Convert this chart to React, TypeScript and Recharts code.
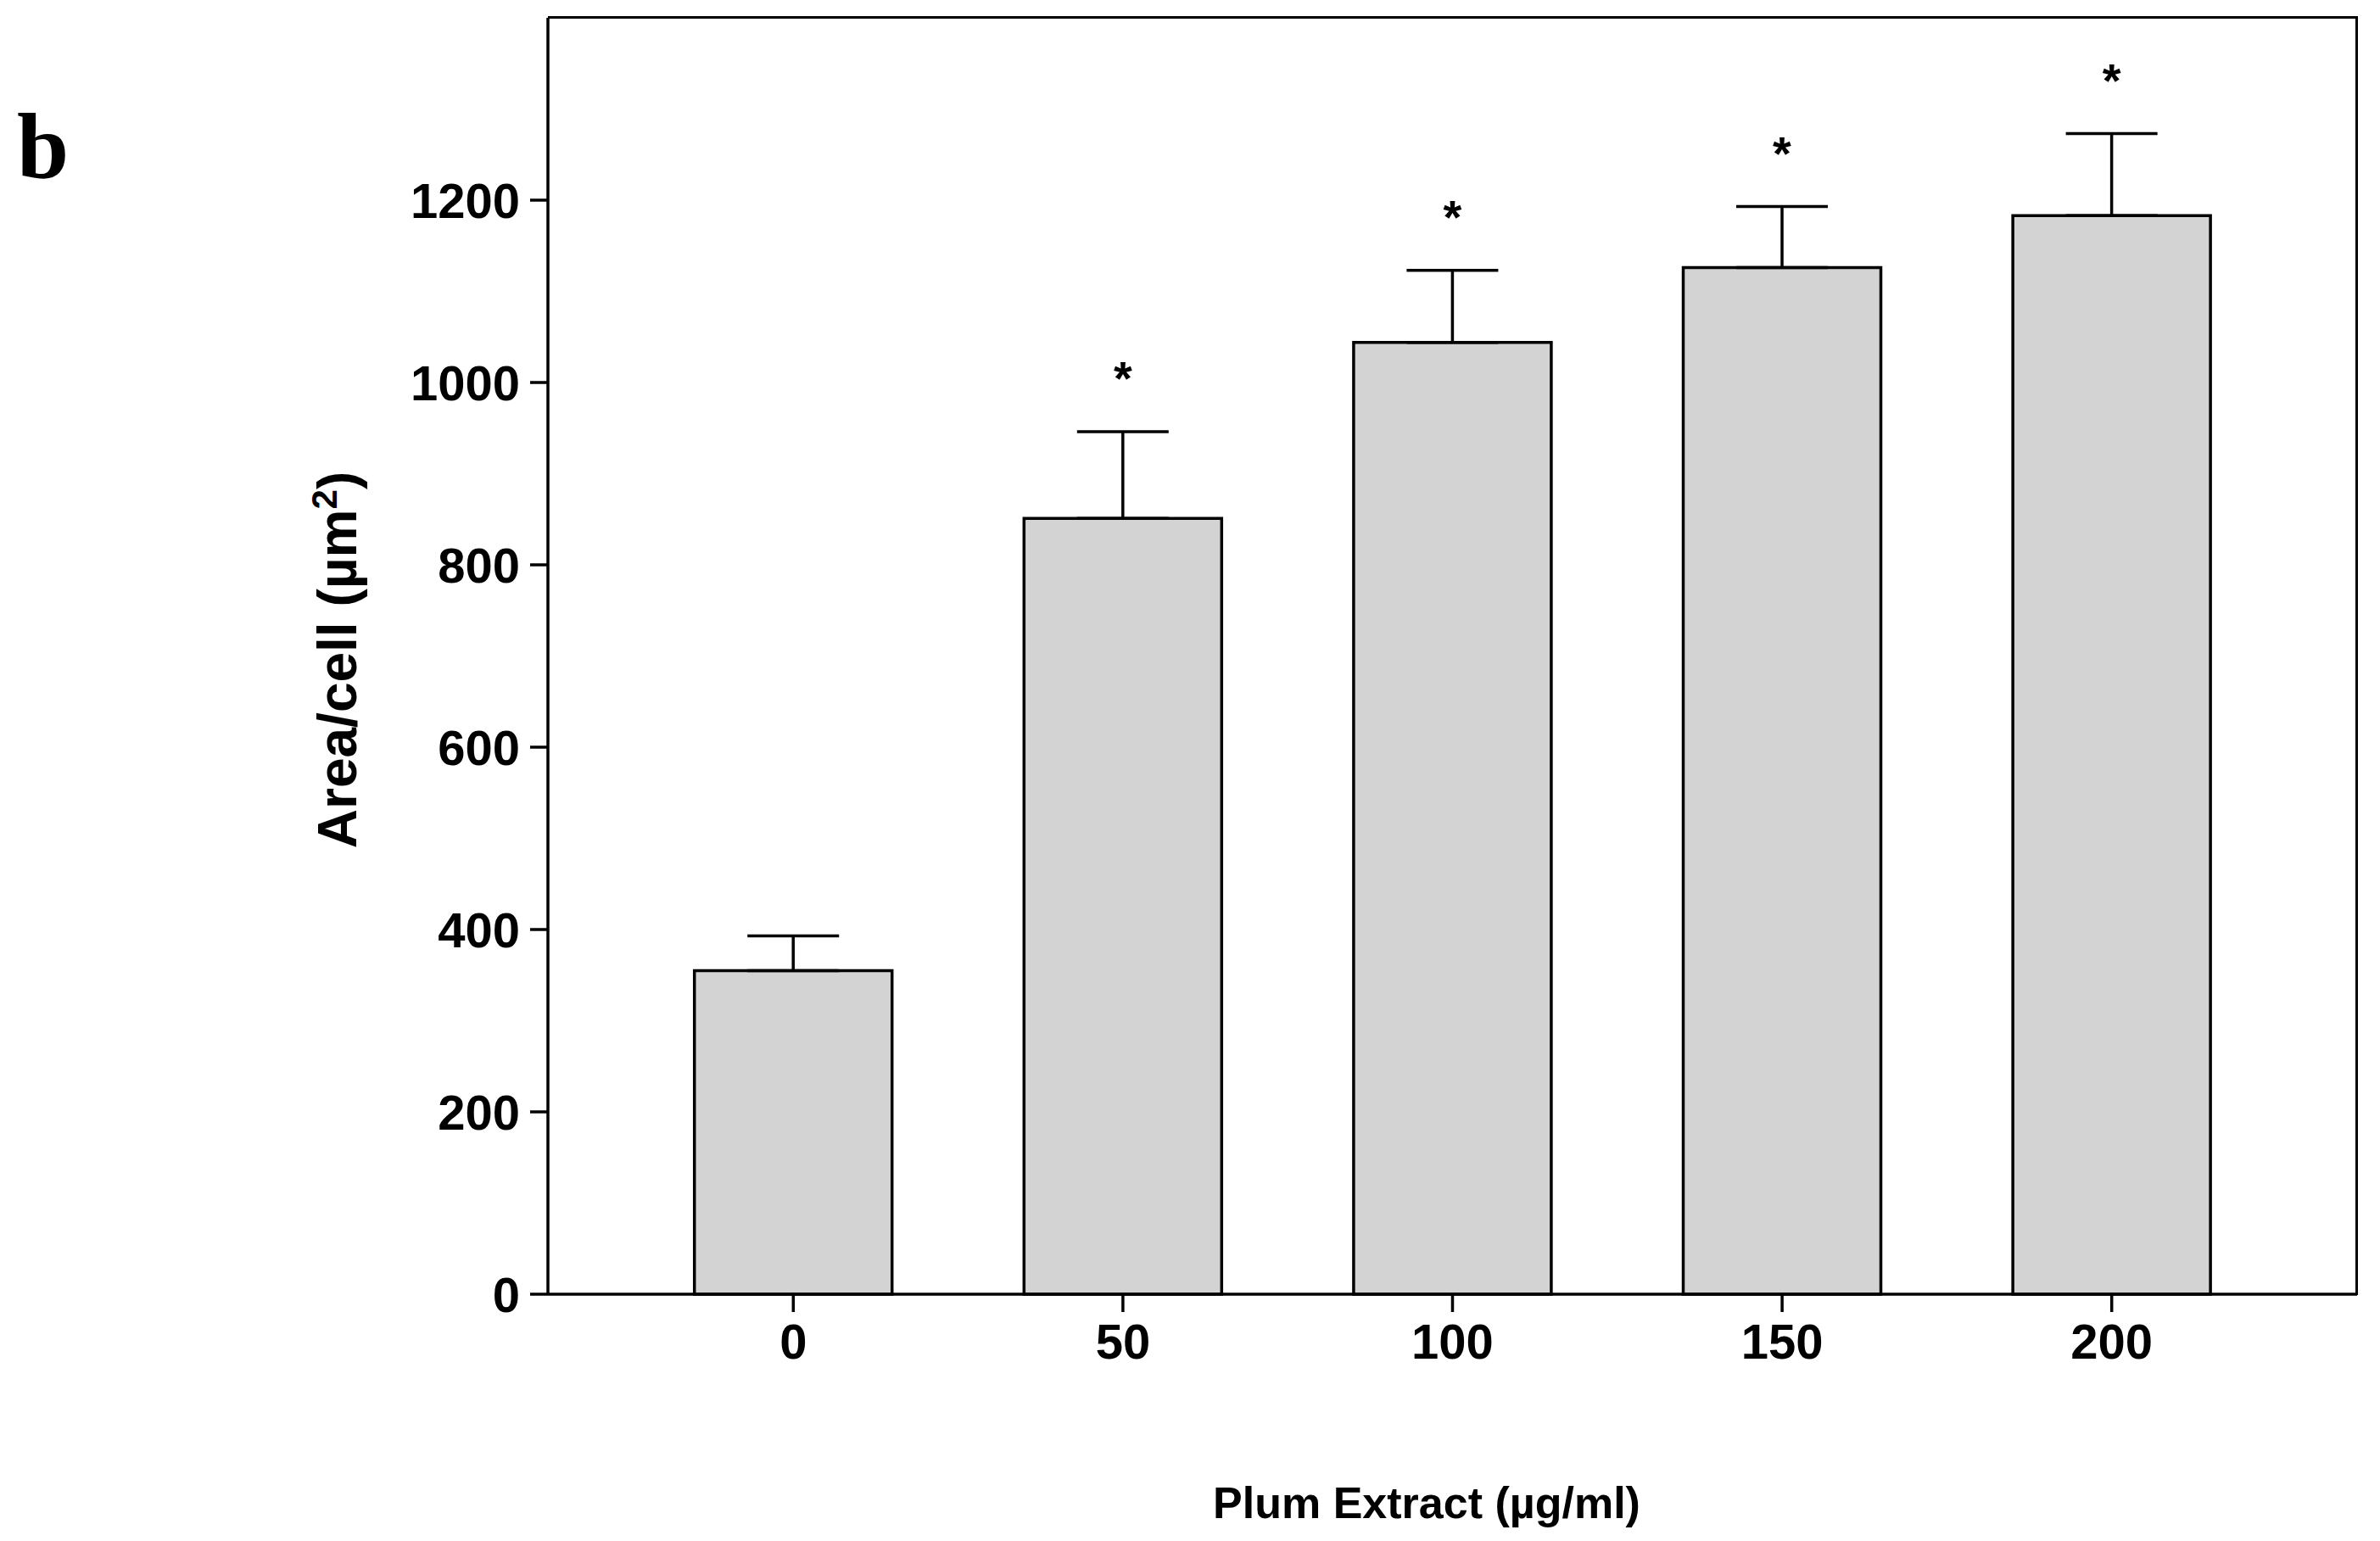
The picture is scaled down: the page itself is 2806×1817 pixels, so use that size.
import React from "react";
import { BarChart, Bar, XAxis, YAxis, ErrorBar, LabelList } from "recharts";

const categories = ["0", "50", "100", "150", "200"];
const means = [355, 851, 1044, 1126, 1183];
const errors = [38, 95, 79, 67, 90];
const significant = [false, true, true, true, true];
const yTicks = [0, 200, 400, 600, 800, 1000, 1200];

const data = categories.map((c, i) => ({ name: c, value: means[i], err: [0, errors[i]], sig: significant[i] }));

const font = "'Liberation Sans', Arial, sans-serif";

const Star = (props: any) => {
  const { x, y, width, height, value, index } = props;
  if (!significant[index]) return null;
  const ppu = height / value;
  const top = y - errors[index] * ppu;
  return (
    <text x={x + width / 2} y={top - 44} textAnchor="middle" fontFamily={font} fontWeight="bold" fontSize={56} fill="#000">*</text>
  );
};

export default function App() {
  return (
    <div style={{ position: "absolute", left: 0, top: 0, width: 2806, height: 1817, background: "#fff" }}>
      <BarChart width={2806} height={1817} data={data} margin={{ top: 21, right: 27, bottom: 141, left: 446 }} barCategoryGap="20%">
        <XAxis dataKey="name" padding={{ left: 95, right: 95 }} height={150} stroke="#000" strokeWidth={3.5}
          tickSize={21} tick={{ fill: "#000", fontSize: 58, fontWeight: "bold", fontFamily: font }} tickMargin={14} />
        <YAxis domain={[0, 1400]} ticks={yTicks} width={200} stroke="#000" strokeWidth={3.5} tickSize={21}
          tick={{ fill: "#000", fontSize: 58, fontWeight: "bold", fontFamily: font }} tickMargin={12} />
        <Bar dataKey="value" fill="#d3d3d3" stroke="#000" strokeWidth={3.5} isAnimationActive={false}>
          <ErrorBar dataKey="err" direction="y" width={54} stroke="#000" strokeWidth={3.5} />
          <LabelList dataKey="value" content={Star} />
        </Bar>
      </BarChart>
      <div style={{ position: "absolute", left: 646, top: 19, width: 2131, height: 1505, borderTop: "3.5px solid #000", borderRight: "3.5px solid #000", pointerEvents: "none" }} />
      <div style={{ position: "absolute", left: 20, top: 110, fontFamily: "'Liberation Serif', serif", fontWeight: "bold", fontSize: 110 }}>b</div>
      <div style={{ position: "absolute", left: 397, top: 778, transform: "translate(-50%,-50%) rotate(-90deg)", whiteSpace: "nowrap",
        fontFamily: font, fontWeight: "bold", fontSize: 64 }}>Area/cell (µm<sup style={{ fontSize: 42 }}>2</sup>)</div>
      <div style={{ position: "absolute", left: 1682, top: 1772, transform: "translate(-50%,-50%)", whiteSpace: "nowrap",
        fontFamily: font, fontWeight: "bold", fontSize: 52 }}>Plum Extract (µg/ml)</div>
    </div>
  );
}
